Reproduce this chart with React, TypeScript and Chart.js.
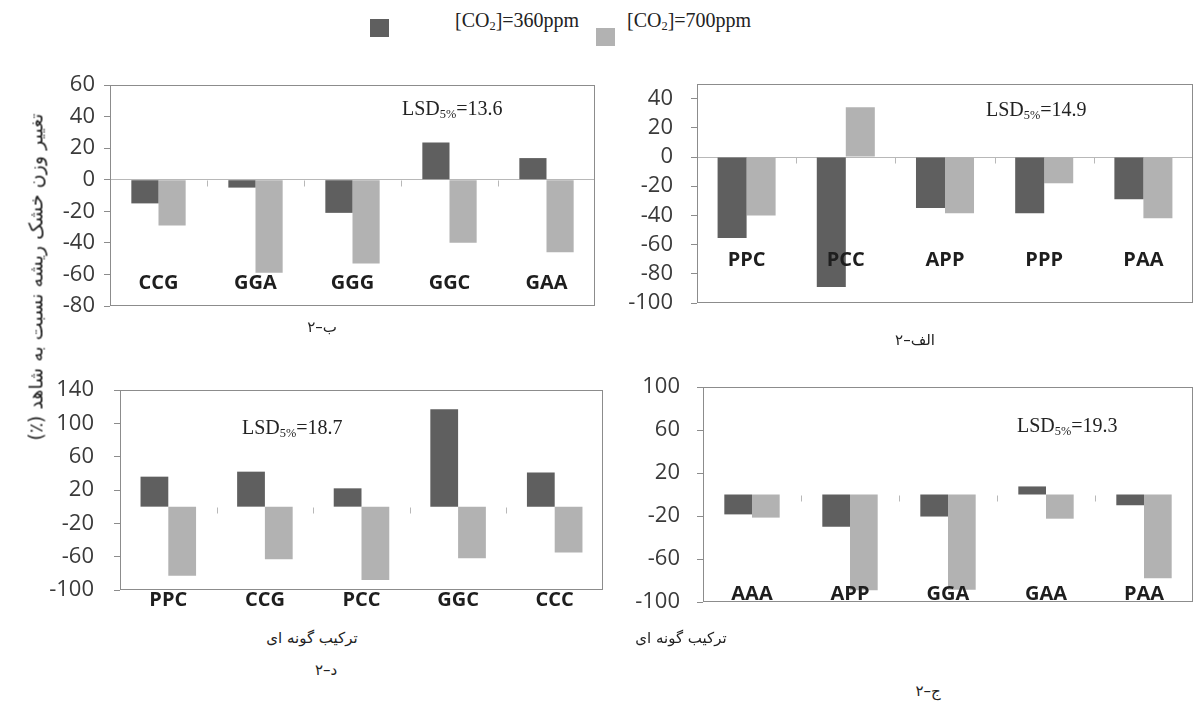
import React, { useEffect, useRef } from "react";
import { Chart, registerables } from "chart.js";

Chart.register(...registerables);

// ---------- data ----------
const seriesNames = ["[CO2]=360ppm", "[CO2]=700ppm"];

// panel الف–۲ (top right)
const catsAlef = ["PPC", "PCC", "APP", "PPP", "PAA"];
const alef360 = [-55.5, -89, -35, -38.5, -29];
const alef700 = [-40, 34, -38.5, -18, -42];

// panel ب–۲ (top left)
const catsBe = ["CCG", "GGA", "GGG", "GGC", "GAA"];
const be360 = [-15, -5, -21, 23.5, 13.7];
const be700 = [-29, -59, -53, -40, -46];

// panel ج–۲ (bottom right)
const catsJim = ["AAA", "APP", "GGA", "GAA", "PAA"];
const jim360 = [-18.5, -30, -20.5, 7.5, -10];
const jim700 = [-21.5, -89, -88.5, -22.5, -78];

// panel د–۲ (bottom left)
const catsDal = ["PPC", "CCG", "PCC", "GGC", "CCC"];
const dal360 = [36, 42, 22, 117, 41];
const dal700 = [-83, -63, -88, -62, -55];

// axis ranges [min, max, step]
const axisAlef = [-100, 50, 20];
const axisBe = [-80, 60, 20];
const axisJim = [-100, 100, 40];
const axisDal = [-100, 140, 40];

const lsdAlef = "14.9";
const lsdBe = "13.6";
const lsdJim = "19.3";
const lsdDal = "18.7";

const titleAlef = "الف–۲";
const titleBe = "ب–۲";
const titleJim = "ج–۲";
const titleDal = "د–۲";
const xTitle = "ترکیب گونه ای";
const yTitle = "تغییر وزن خشک ریشه نسبت به شاهد (٪)";

// ---------- styles ----------
const DARK = "#5f5f5f";
const LIGHT = "#b2b2b2";
const FRAME = "#8c8c8c";
const ZERO = "#b8b8b8";
const TICK_TEXT = "#3a3a3a";
const CAT_TEXT = "#1e1e1e";
const SANS = "'Open Sans', 'DejaVu Sans', sans-serif";
const SERIF = "'Liberation Serif', 'DejaVu Serif', serif";
const PERSIAN = "'DejaVu Sans', sans-serif";

const framePlugin = {
  id: "frame",
  afterDatasetsDraw(chart: any) {
    const { ctx, chartArea: a, scales } = chart;
    ctx.save();
    ctx.strokeStyle = FRAME;
    ctx.lineWidth = 1;
    ctx.strokeRect(
      Math.round(a.left) + 0.5,
      Math.round(a.top) + 0.5,
      Math.round(a.right - a.left) - 1,
      Math.round(a.bottom - a.top) - 1
    );
    const y0 = Math.round(scales.y.getPixelForValue(0)) + 0.5;
    ctx.strokeStyle = ZERO;
    const n = chart.data.labels.length;
    for (let i = 1; i < n; i++) {
      const x =
        Math.round((scales.x.getPixelForValue(i - 1) + scales.x.getPixelForValue(i)) / 2) + 0.5;
      ctx.beginPath();
      ctx.moveTo(x, y0);
      ctx.lineTo(x, y0 + 6);
      ctx.stroke();
    }
    ctx.restore();
  },
};

// category names written at each category centre given by the x scale
const catLabelPlugin = {
  id: "catLabels",
  afterDatasetsDraw(chart: any, _args: any, opts: any) {
    const { ctx, scales } = chart;
    ctx.save();
    ctx.font = `bold 20px ${SANS}`;
    ctx.fillStyle = CAT_TEXT;
    ctx.textAlign = "center";
    ctx.textBaseline = "middle";
    (chart.data.labels as string[]).forEach((lab, i) => {
      ctx.fillText(lab, scales.x.getPixelForValue(i), opts.y);
    });
    ctx.restore();
  },
};

type Layout = {
  l: number;
  t: number;
  r: number;
  b: number;
  yPad: number;
  labelY: number;
  catPct: number;
};

function BarPanel(props: {
  cats: string[];
  s1: number[];
  s2: number[];
  axis: number[];
  lay: Layout;
}) {
  const { cats, s1, s2, axis, lay } = props;
  const ref = useRef<HTMLCanvasElement>(null);
  const Wy = 80;
  const padTop = 36;
  const padRight = 1;
  const padBottom = 36;
  const w = lay.r - lay.l + Wy + padRight;
  const h = lay.b - lay.t + padTop + padBottom;
  const top = lay.t - padTop;

  useEffect(() => {
    const chart = new Chart(ref.current as HTMLCanvasElement, {
      type: "bar",
      data: {
        labels: cats,
        datasets: [
          {
            label: seriesNames[0],
            data: s1,
            backgroundColor: DARK,
            borderWidth: 0,
            barPercentage: 1,
            categoryPercentage: lay.catPct,
          },
          {
            label: seriesNames[1],
            data: s2,
            backgroundColor: LIGHT,
            borderWidth: 0,
            barPercentage: 1,
            categoryPercentage: lay.catPct,
          },
        ],
      },
      options: {
        animation: false,
        responsive: false,
        maintainAspectRatio: false,
        layout: { padding: { top: padTop, right: padRight, bottom: padBottom, left: 0 } },
        plugins: {
          legend: { display: false },
          tooltip: { enabled: false },
          catLabels: { y: lay.labelY - top },
        },
        scales: {
          x: { display: false },
          y: {
            min: axis[0],
            max: axis[1],
            bounds: "data",
            grid: {
              drawOnChartArea: true,
              drawTicks: true,
              tickLength: 6,
              lineWidth: 1,
              color: (c: any) => (c.tick && c.tick.value === 0 ? ZERO : "rgba(0,0,0,0)"),
              tickColor: FRAME,
            },
            border: { display: false },
            ticks: {
              stepSize: axis[2],
              includeBounds: false,
              padding: lay.yPad,
              color: TICK_TEXT,
              font: { family: SANS, size: 22 },
              callback: (v: any) => ((v - axis[0]) % axis[2] === 0 ? String(v) : null),
            },
            afterFit: (s: any) => {
              s.width = Wy;
            },
          },
        },
      } as any,
      plugins: [framePlugin, catLabelPlugin],
    });
    return () => chart.destroy();
  }, []);

  return (
    <canvas
      ref={ref}
      width={w}
      height={h}
      style={{ position: "absolute", left: lay.l - Wy, top, width: w, height: h }}
    />
  );
}

const layoutBe: Layout = { l: 110, t: 85, r: 595, b: 306, yPad: 9, labelY: 283, catPct: 0.56 };
const layoutAlef: Layout = { l: 697, t: 84, r: 1193, b: 303, yPad: 18, labelY: 260, catPct: 0.585 };
const layoutDal: Layout = { l: 120, t: 390, r: 603, b: 590, yPad: 20, labelY: 600, catPct: 0.575 };
const layoutJim: Layout = { l: 703, t: 387, r: 1193, b: 602, yPad: 17, labelY: 594, catPct: 0.565 };

function Centered(props: { x: number; y: number; style?: any; children: any; dir?: string }) {
  return (
    <div style={{ position: "absolute", left: props.x, top: props.y, width: 0, height: 0 }}>
      <div
        dir={props.dir}
        style={{
          position: "absolute",
          left: 0,
          top: 0,
          whiteSpace: "nowrap",
          lineHeight: 1,
          transform: "translate(-50%, -50%)",
          ...props.style,
        }}
      >
        {props.children}
      </div>
    </div>
  );
}

function LeftMid(props: { x: number; y: number; style?: any; children: any }) {
  return (
    <div
      style={{
        position: "absolute",
        left: props.x,
        top: props.y,
        whiteSpace: "nowrap",
        lineHeight: 1,
        transform: "translateY(-50%)",
        ...props.style,
      }}
    >
      {props.children}
    </div>
  );
}

const subStyle = { fontSize: "0.62em", verticalAlign: "-0.25em", lineHeight: 0 };

function Lsd(props: { x: number; y: number; value: string }) {
  return (
    <LeftMid x={props.x} y={props.y} style={{ fontFamily: SERIF, fontSize: 20, color: "#222" }}>
      LSD<span style={subStyle}>5%</span>={props.value}
    </LeftMid>
  );
}

export default function App() {
  const persian = { fontFamily: PERSIAN, fontSize: 15, color: "#222" };
  return (
    <div
      style={{
        position: "absolute",
        left: 0,
        top: 0,
        width: 1194,
        height: 702,
        overflow: "hidden",
        background: "#ffffff",
      }}
    >
      {/* legend */}
      <div style={{ position: "absolute", left: 370, top: 19, width: 19, height: 18, background: DARK }} />
      <LeftMid x={455} y={20} style={{ fontFamily: SERIF, fontSize: 20, color: "#222" }}>
        [CO<span style={subStyle}>2</span>]=360ppm
      </LeftMid>
      <div style={{ position: "absolute", left: 596, top: 28, width: 19, height: 18, background: LIGHT }} />
      <LeftMid x={627} y={20} style={{ fontFamily: SERIF, fontSize: 20, color: "#222" }}>
        [CO<span style={subStyle}>2</span>]=700ppm
      </LeftMid>

      <BarPanel cats={catsBe} s1={be360} s2={be700} axis={axisBe} lay={layoutBe} />
      <BarPanel cats={catsAlef} s1={alef360} s2={alef700} axis={axisAlef} lay={layoutAlef} />
      <BarPanel cats={catsDal} s1={dal360} s2={dal700} axis={axisDal} lay={layoutDal} />
      <BarPanel cats={catsJim} s1={jim360} s2={jim700} axis={axisJim} lay={layoutJim} />

      <Lsd x={402} y={108} value={lsdBe} />
      <Lsd x={986} y={109} value={lsdAlef} />
      <Lsd x={242} y={427} value={lsdDal} />
      <Lsd x={1017} y={425} value={lsdJim} />

      <Centered x={322} y={327} dir="rtl" style={persian}>{titleBe}</Centered>
      <Centered x={915} y={340} dir="rtl" style={persian}>{titleAlef}</Centered>
      <Centered x={312} y={638} dir="rtl" style={persian}>{xTitle}</Centered>
      <Centered x={681} y={638} dir="rtl" style={persian}>{xTitle}</Centered>
      <Centered x={326} y={670} dir="rtl" style={persian}>{titleDal}</Centered>
      <Centered x={928} y={691} dir="rtl" style={persian}>{titleJim}</Centered>

      <Centered
        x={36}
        y={277}
        dir="rtl"
        style={{ ...persian, fontSize: 19, transform: "translate(-50%, -50%) rotate(-90deg)" }}
      >
        {yTitle}
      </Centered>
    </div>
  );
}
